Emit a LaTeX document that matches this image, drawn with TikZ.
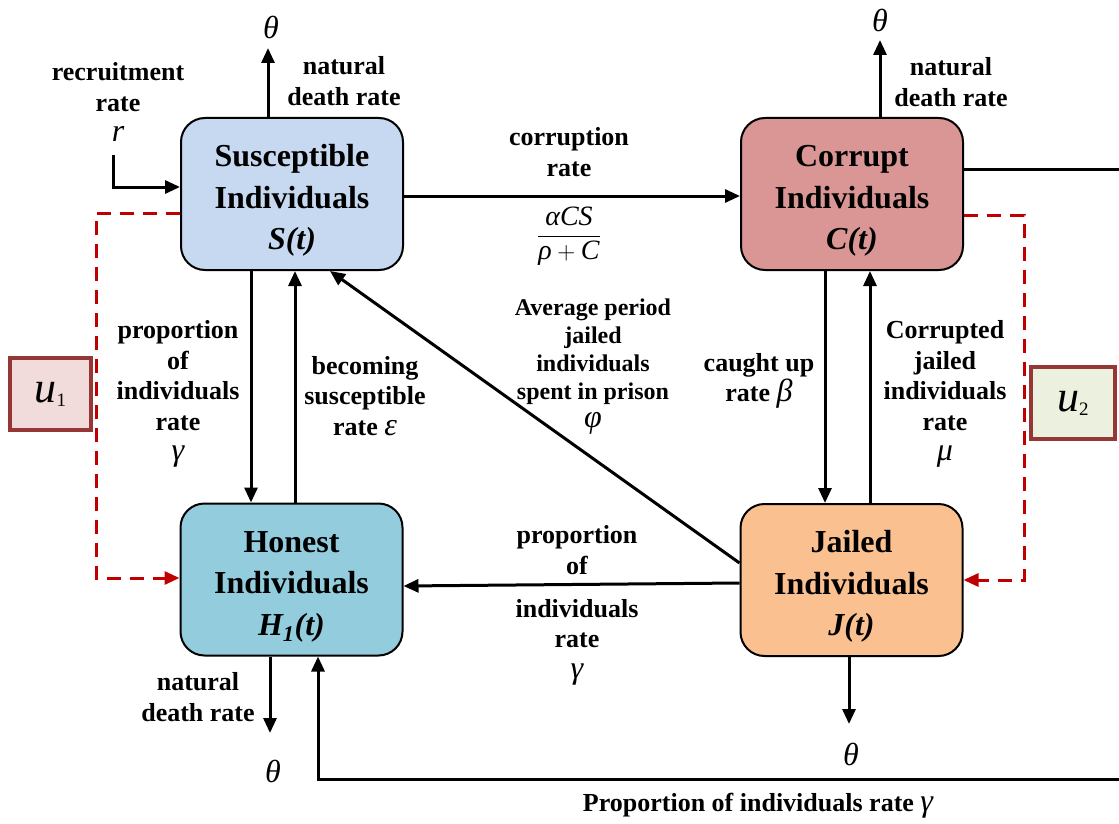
\documentclass[tikz,border=0pt]{standalone}
\usepackage{fontspec}
\setmainfont{Liberation Serif}
\usetikzlibrary{arrows.meta,calc}
\definecolor{sblue}{HTML}{C6D9F1}
\definecolor{crose}{HTML}{D99694}
\definecolor{hcyan}{HTML}{93CDDD}
\definecolor{jorange}{HTML}{FAC090}
\definecolor{ured}{HTML}{C00000}
\definecolor{ubord}{HTML}{953735}
\definecolor{uone}{HTML}{F2DCDB}
\definecolor{utwo}{HTML}{EBF1DE}
\newcommand\gk[1]{{\normalfont\itshape\fontsize{32}{32}\selectfont #1}}
\newcommand\topstrut{\rule{0pt}{35pt}}
\newcommand\usub[1]{\textsubscript{\normalfont\fontsize{19}{19}\selectfont #1}}
\begin{document}
\begin{tikzpicture}[x=1pt,y=-1pt,
  box/.style={draw=black,line width=2pt,rounded corners=24pt,minimum width=222pt,minimum height=152pt,align=center,font=\fontsize{32}{41.5}\selectfont\bfseries},
  lab/.style={align=center,font=\fontsize{26}{30.5}\selectfont\bfseries},
  arr/.style={line width=3pt,-{Triangle[length=15pt,width=13pt]}},
  ln/.style={line width=3pt},
  ctl/.style={draw=ured,line width=3pt,dash pattern=on 14pt off 9pt,-{Triangle[length=15pt,width=13pt]}},
  ubox/.style={draw=ubord,line width=3.2pt,minimum height=72pt,font=\fontsize{44}{44}\selectfont\itshape}]
\useasboundingbox (0,0) rectangle (1119,824);

% boxes
\node[box,fill=sblue] (S) at (292,194) {\topstrut Susceptible\\Individuals\\\textit{S(t)}};
\node[box,fill=crose] (C) at (852,194) {\topstrut Corrupt\\Individuals\\\textit{C(t)}};
\node[box,fill=hcyan] (H) at (291.5,579.5) {\topstrut Honest\\Individuals\\\textit{H\textsubscript{1}(t)}};
\node[box,fill=jorange] (J) at (851.5,580) {\topstrut Jailed\\Individuals\\\textit{J(t)}};

% control boxes
\node[ubox,fill=uone,minimum width=81pt] (u1) at (50.5,394) {u\usub{1}};
\node[ubox,fill=utwo,minimum width=84pt] (u2) at (1073,403) {u\usub{2}};

% theta nodes
\node (thS) at (271,27) {\gk{θ}};
\node (thC) at (880,20) {\gk{θ}};
\node (thH) at (273,771) {\gk{θ}};
\node (thJ) at (851,754) {\gk{θ}};

% coordinates
\coordinate (rin) at (113,155);
\coordinate (cr) at (1119,169);
\coordinate (hr) at (1119,779);
\coordinate (dl) at (96,400);
\coordinate (dr) at (1024,400);

% labels
\node[lab] (lrec) at (118,102) {recruitment\\rate\\\gk{r}};
\node[lab] (lnS) at (344,81) {natural\\death rate};
\node[lab] (lcor) at (569,152) {corruption\\rate};
\node (lfrac) at (569,236) {\fontsize{28}{28}\selectfont$\displaystyle\frac{\mbox{\itshape αCS}}{\mbox{\itshape ρ}+\mbox{\itshape C}}$};
\node[lab] (lnC) at (951,82) {natural\\death rate};
\node[lab] (lprop) at (178,394) {proportion\\of\\individuals\\rate\\\gk{γ}};
\node[lab] (lbec) at (365,396) {becoming\\susceptible\\rate \gk{ε}};
\node[lab,font=\fontsize{24}{28}\selectfont\bfseries] (lavg) at (593,367) {Average period\\jailed\\individuals\\spent in prison\\\gk{φ}};
\node[lab] (lcau) at (759,381) {caught up\\rate \gk{β}};
\node[lab] (lcj) at (945,394) {Corrupted\\jailed\\individuals\\rate\\\gk{μ}};
\node[lab] (lpo) at (577,550) {proportion\\of};
\node[lab] (lir) at (577,642) {individuals\\rate\\\gk{γ}};
\node[lab] (lnH) at (198,697) {natural\\death rate};
\node[lab] (lbot) at (758,806) {Proportion of individuals rate \gk{γ}};

% flows
\draw[arr] ([xshift=-24pt]S.north) -- ([xshift=-24pt]S.north |- 0,48);
\draw[arr] ([xshift=28pt]C.north) -- ([xshift=28pt]C.north |- 0,40);
\draw[arr] (rin) |- ([yshift=7pt]S.west);
\draw[arr] ([yshift=-2pt]S.east) -- ([yshift=-2pt]C.west);
\draw[ln] ([yshift=25pt]C.east) -- (cr);
\draw[arr] ([xshift=-41pt]S.south) -- ([xshift=-40.5pt]H.north);
\draw[arr] ([xshift=3.5pt]H.north) -- ([xshift=3pt]S.south);
\draw[arr] ([yshift=17pt]J.west) -- ([xshift=38pt]S.south);
\draw[arr] ([xshift=-27pt]C.south) -- ([xshift=-26.5pt]J.north);
\draw[arr] ([xshift=18.5pt]J.north) -- ([xshift=18pt]C.south);
\draw[arr] ([yshift=-3pt]J.west) -- ([yshift=-6.5pt]H.east);
\draw[arr] ([xshift=-21.5pt]H.south) -- ([xshift=-21.5pt]H.south |- 0,733);
\draw[arr] ([xshift=-2.5pt]J.south) -- ([xshift=-2.5pt]J.south |- 0,724);
\draw[arr] (hr) -| ([xshift=26.5pt]H.south);

% controls
\draw[ctl] ([yshift=-19pt]S.west) -| (dl) |- ([yshift=1.5pt]H.west);
\draw[ctl] ([yshift=-21pt]C.east) -| (dr) |- (J.east);
\end{tikzpicture}
\end{document}
